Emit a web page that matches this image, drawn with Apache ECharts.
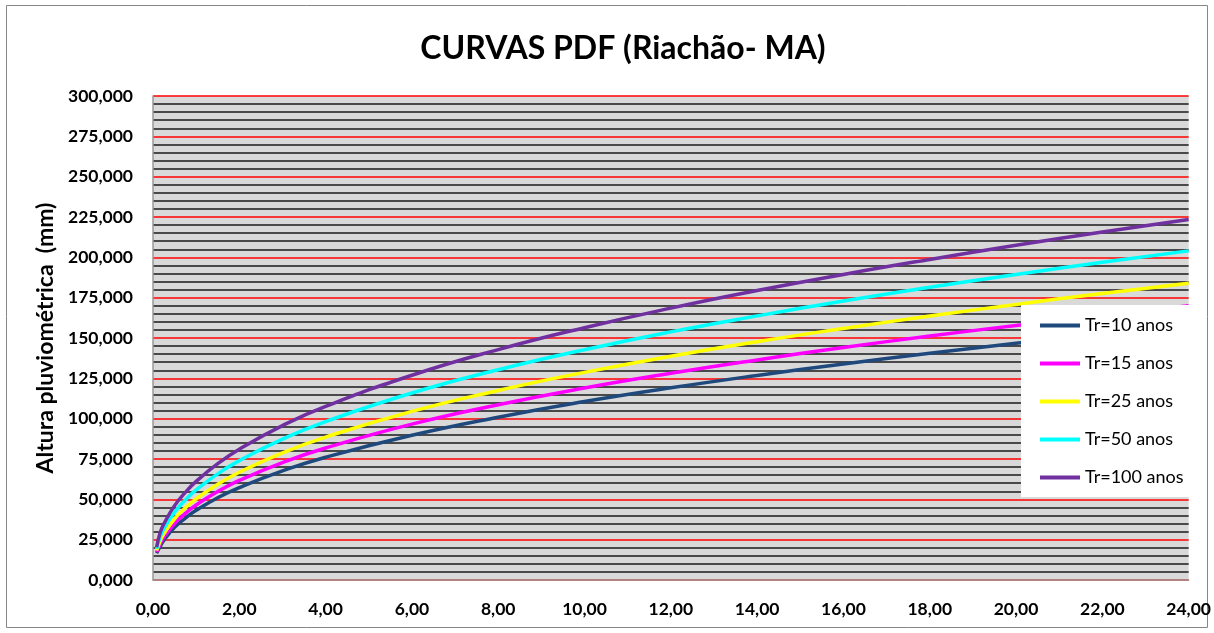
<!DOCTYPE html>
<html>
<head>
<meta charset="utf-8">
<script src="https://cdn.jsdelivr.net/npm/echarts@6/dist/echarts.min.js"></script>
<style>html,body{margin:0;padding:0;background:#fff}#c{width:1214px;height:633px}</style>
</head>
<body>
<div id="c"></div>
<script>
const durations = [0.0833, 0.1667, 0.25, 0.5, 0.75, 1, 1.5, 2, 3, 4, 6, 8, 10, 12, 14, 16, 18, 20, 22, 24];
const seriesNames = ['Tr=10 anos', 'Tr=15 anos', 'Tr=25 anos', 'Tr=50 anos', 'Tr=100 anos'];
const tr10  = [16.6, 20.8, 24.5, 32.6, 38.4, 43.2, 51.0, 57.3, 67.6, 76.1, 89.7, 100.9, 110.6, 119.1, 126.8, 133.9, 140.5, 146.7, 152.5, 158.0];
const tr15  = [17.3, 22.4, 26.4, 35.0, 41.3, 46.5, 54.8, 61.7, 72.8, 81.8, 96.6, 108.6, 119.0, 128.1, 136.4, 144.1, 151.2, 157.8, 164.1, 170.0];
const tr25  = [18.3, 24.2, 28.6, 37.9, 44.7, 50.3, 59.4, 66.8, 78.8, 88.6, 104.5, 117.5, 128.7, 138.7, 147.7, 155.9, 163.6, 170.8, 177.6, 184.0];
const tr50  = [19.3, 26.8, 31.7, 42.0, 49.6, 55.8, 65.8, 74.0, 87.3, 98.2, 115.9, 130.3, 142.7, 153.8, 163.7, 172.9, 181.4, 189.4, 196.9, 204.0];
const tr100 = [20.3, 29.4, 34.7, 46.1, 54.3, 61.1, 72.1, 81.1, 95.7, 107.6, 126.9, 142.8, 156.4, 168.5, 179.4, 189.4, 198.7, 207.5, 215.7, 223.5];
const seriesValues = [tr10, tr15, tr25, tr50, tr100];
const seriesColors = ['#1f497d', '#ff00ff', '#ffff00', '#00ffff', '#7030a0'];

const FONT = 'Lato, "Open Sans", sans-serif';
const chart = echarts.init(document.getElementById('c'));
chart.setOption({
  animation: false,
  backgroundColor: '#ffffff',
  title: {
    text: 'CURVAS PDF (Riachão- MA)',
    left: 618, top: 28, textAlign: 'center',
    textStyle: { fontFamily: FONT, fontWeight: 'bold', fontSize: 32, color: '#000' }
  },
  graphic: [{
    type: 'rect', silent: true, z: -1,
    shape: { x: 6.5, y: 5.5, width: 1201, height: 622 },
    style: { fill: 'none', stroke: '#868686', lineWidth: 1 }
  }],
  grid: { left: 153, right: 24, top: 96, bottom: 53, show: true, backgroundColor: '#d9d9d9', borderWidth: 0 },
  legend: {
    orient: 'vertical', left: 1021, top: 305,
    backgroundColor: '#ffffff',
    padding: [10, 7, 9, 19],
    itemGap: 17, itemWidth: 40, itemHeight: 4, icon: 'rect',
    textStyle: { fontFamily: FONT, fontSize: 18, color: '#000', lineHeight: 21 },
    data: seriesNames
  },
  xAxis: {
    type: 'value', min: 0, max: 24, interval: 2,
    axisLine: { show: true, lineStyle: { color: '#999', width: 1.5 } },
    axisTick: { show: false },
    splitLine: { show: false },
    axisLabel: {
      margin: 20, color: '#000', fontFamily: FONT, fontWeight: 'bold', fontSize: 17.5,
      formatter: v => v.toFixed(2).replace('.', ',')
    }
  },
  yAxis: {
    type: 'value', min: 0, max: 300, interval: 25,
    name: 'Altura pluviométrica  (mm)', nameLocation: 'middle', nameGap: 95,
    nameTextStyle: { fontFamily: FONT, fontWeight: 'bold', fontSize: 23, color: '#000' },
    axisLine: { show: true, onZero: false, lineStyle: { color: '#999', width: 1.5 } },
    axisTick: { show: false },
    splitLine: { show: true, lineStyle: { color: '#ff0000', width: 1.5 } },
    minorTick: { show: false, splitNumber: 5 },
    minorSplitLine: { show: true, lineStyle: { color: '#1a1a1a', width: 1.5 } },
    axisLabel: {
      margin: 20, color: '#000', fontFamily: FONT, fontWeight: 'bold', fontSize: 17.5,
      formatter: v => v.toFixed(3).replace('.', ',')
    }
  },
  series: seriesNames.map((name, i) => ({
    name, type: 'line', showSymbol: false, smooth: true,
    data: durations.map((t, j) => [t, seriesValues[i][j]]),
    lineStyle: { color: seriesColors[i], width: 3.5 },
    itemStyle: { color: seriesColors[i] },
    z: 3
  }))
});
</script>
</body>
</html>
